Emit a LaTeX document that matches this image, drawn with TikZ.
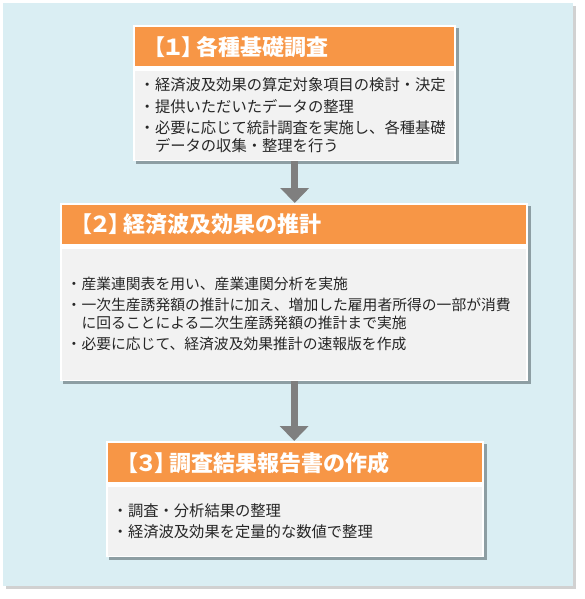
\documentclass[tikz,border=0pt]{standalone}
\usepackage{fontspec}
\setmainfont{Noto Sans CJK JP}
\usetikzlibrary{positioning,shadows,arrows.meta}
\definecolor{panelblue}{HTML}{DAEEF3}
\definecolor{headorange}{HTML}{F79646}
\definecolor{bodygray}{HTML}{F2F2F2}
\definecolor{arrowgray}{HTML}{7F7F7F}
\definecolor{textdark}{HTML}{262626}
\definecolor{shadowslate}{HTML}{7A8A90}
\newcommand{\stepno}[1]{【\kern-3pt#1\kern-3pt】\kern-7pt}

\begin{document}
\begin{tikzpicture}[x=1pt,y=1pt,
   panel/.style={fill=panelblue,anchor=north west,inner sep=0pt,
     drop shadow={shadow xshift=3pt,shadow yshift=-3pt,fill=black,opacity=0.18}},
   card/.style={fill=white,anchor=north west,inner sep=0pt,
     drop shadow={shadow xshift=3pt,shadow yshift=-3pt,fill=shadowslate,opacity=0.8}},
   cardhead/.style={fill=headorange,text=white,anchor=north west,align=left,
     font=\fontsize{22}{24}\selectfont\bfseries,inner xsep=0pt,inner ysep=0pt,minimum height=39pt},
   cardbody/.style={fill=bodygray,text=textdark,anchor=north west,align=left,
     font=\fontsize{15.3}{17.5}\selectfont,inner xsep=4.5pt,inner ysep=0pt},
   flowarrow/.style={draw=arrowgray,line width=7pt,-{Triangle[width=28pt,length=15pt]}}]
   \useasboundingbox (0,0) rectangle (585,-599);
   \node[panel,minimum width=570pt,minimum height=583pt] (bg) at (3,-3) {};

   \node[card,minimum width=323pt,minimum height=136pt] (c1) at (133,-25) {};
   \node[cardhead,text width=319pt] (h1) at ([shift={(2,-2)}]c1.north west) {\hspace*{8pt}\stepno{１}各種基礎調査};
   \node[cardbody,text width=310pt,minimum height=89pt,below=4pt of h1.south west,anchor=north west] (b1)
     {・経済波及効果の算定対象項目の検討・決定\\[4pt]
      ・提供いただいたデータの整理\\[4pt]
      ・必要に応じて統計調査を実施し、各種基礎\\
      \hspace*{1em}データの収集・整理を行う};

   \node[card,minimum width=468pt,minimum height=178pt] (c2) at (60,-203) {};
   \node[cardhead,text width=464pt] (h2) at ([shift={(2,-2)}]c2.north west) {\hspace*{8pt}\stepno{２}経済波及効果の推計};
   \node[cardbody,text width=455pt,minimum height=131pt,below=4pt of h2.south west,anchor=north west,
     font=\fontsize{14.8}{17.5}\selectfont] (b2)
     {・産業連関表を用い、産業連関分析を実施\\[4pt]
      \makebox[\linewidth][l]{・一次生産誘発額の推計に加え、増加した雇用者所得の一部が消費}\\
      \hspace*{1em}に回ることによる二次生産誘発額の推計まで実施\\[4pt]
      ・必要に応じて、経済波及効果推計の速報版を作成};

   \node[card,minimum width=378pt,minimum height=116pt] (c3) at (106,-441) {};
   \node[cardhead,text width=374pt] (h3) at ([shift={(2,-2)}]c3.north west) {\hspace*{8pt}\stepno{３}調査結果報告書の作成};
   \node[cardbody,text width=365pt,minimum height=69pt,below=4pt of h3.south west,anchor=north west] (b3)
     {・調査・分析結果の整理\\[4pt]
      ・経済波及効果を定量的な数値で整理};

   \draw[flowarrow] (c1.south) -- (c1.south |- c2.north);
   \draw[flowarrow] (c2.south) -- (c2.south |- c3.north);
\end{tikzpicture}
\end{document}
